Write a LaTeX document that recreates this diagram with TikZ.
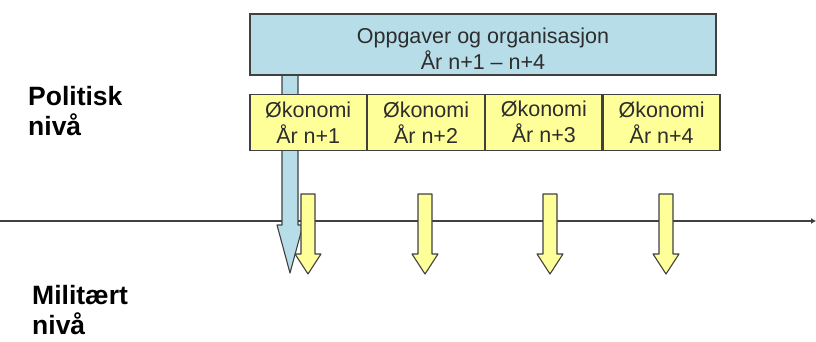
\documentclass[tikz,border=0pt]{standalone}
\usepackage{fontspec}
\setmainfont{Liberation Sans}
\usetikzlibrary{positioning, arrows.meta}
\definecolor{planblue}{RGB}{183,221,232}
\definecolor{yearyellow}{RGB}{255,255,153}
\definecolor{edgegray}{RGB}{64,64,64}
\definecolor{textgray}{RGB}{45,45,45}

\begin{document}
\begin{tikzpicture}[x=1pt, y=-1pt,
	plan/.style={draw=edgegray, line width=1.3pt, fill=planblue, minimum width=466pt, minimum height=61pt, inner sep=0pt, align=center, text=textgray, font=\fontsize{21.5}{25.5}\selectfont},
	year/.style={draw=edgegray, line width=1.3pt, fill=yearyellow, minimum width=116.5pt, minimum height=56pt, inner sep=0pt, align=center, text=textgray, font=\fontsize{21.5}{26}\selectfont},
	level/.style={anchor=north west, inner sep=0pt, align=left, font=\fontsize{26.5}{30}\selectfont\bfseries},
	flow/.style={draw=edgegray, line width=1.1pt, line join=round}]

		\useasboundingbox (0,0) rectangle (816,342);

		% time axis %
		\coordinate (t0) at (0,221);
		\coordinate (t1) at (816,221);
		\draw[edgegray, line width=1.6pt, -{Latex[length=5pt,width=6pt]}] (t0) -- (t1);

		% blue arrow - tasks and organisation %
		\draw[flow, fill=planblue] (282,75) -- (282,225) -- (277,225) -- (290,273) -- (303,225) -- (298,225) -- (298,75) -- cycle;

		% nodes - boxes %
		\node[plan] (plan) at (483,44.5) {\raisebox{-4pt}[\height][\depth]{\shortstack{Oppgaver og organisasjon\\År n+1 -- n+4}}};
		\node[year, below right=18pt and 0pt of plan.south west] (y1) {Økonomi\\År n+1};
		\node[year, right=0pt of y1] (y2) {Økonomi\\År n+2};
		\node[year, right=0pt of y2] (y3) {Økonomi\\År n+3};
		\node[year, right=0pt of y3] (y4) {Økonomi\\År n+4};

		% yellow arrows - budget per year %
		\foreach \cx in {308,425,550,666}
			\draw[flow, fill=yearyellow] ({\cx-7},194) -- ({\cx+7},194) -- ({\cx+7},254) -- ({\cx+13},254) -- (\cx,274) -- ({\cx-13},254) -- ({\cx-7},254) -- cycle;

		% nodes - levels %
		\node[level] (pol) at (28,86) {Politisk\\nivå};
		\node[level] (mil) at (32,285) {Militært\\nivå};

\end{tikzpicture}
\end{document}
